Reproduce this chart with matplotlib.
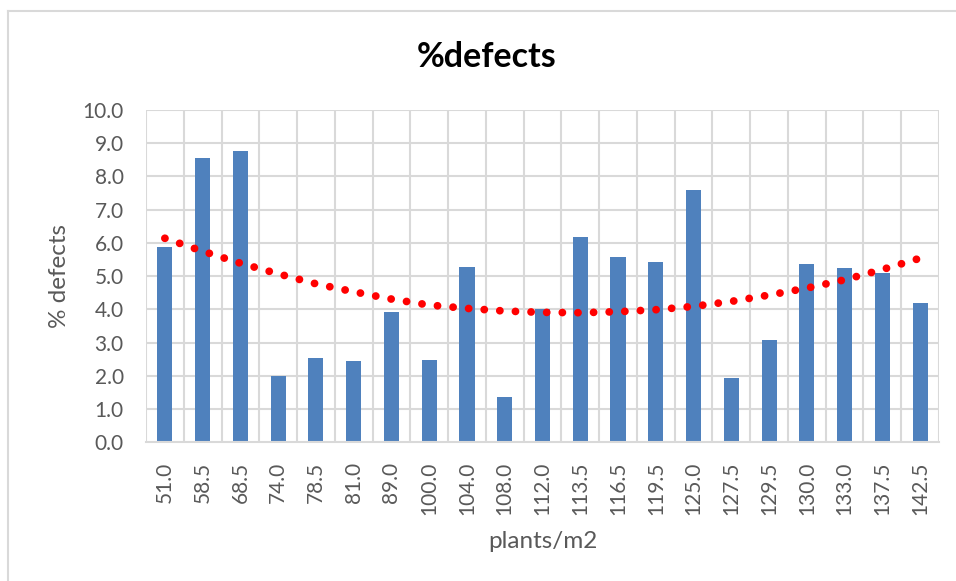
import matplotlib
matplotlib.use('Agg')
import matplotlib.pyplot as plt
from matplotlib.lines import Line2D

# raw data
density = ['51.0', '58.5', '68.5', '74.0', '78.5', '81.0', '89.0', '100.0', '104.0',
           '108.0', '112.0', '113.5', '116.5', '119.5', '125.0', '127.5', '129.5',
           '130.0', '133.0', '137.5', '142.5']
defects = [5.88, 8.55, 8.77, 2.00, 2.54, 2.44, 3.92, 2.48, 5.28, 1.36, 4.00,
           6.17, 5.57, 5.43, 7.59, 1.94, 3.08, 5.37, 5.25, 5.08, 4.20]
# polynomial trendline
trend = [6.14, 5.75, 5.39, 5.07, 4.77, 4.53, 4.31, 4.13, 4.03, 3.95, 3.91,
         3.90, 3.93, 3.99, 4.09, 4.24, 4.43, 4.64, 4.89, 5.20, 5.54]

plt.rcParams['font.family'] = ['Lato', 'DejaVu Sans']
grey = '#595959'

fig = plt.figure(figsize=(9.56, 5.81), dpi=100)
ax = fig.add_axes([146/956, 1-442.3/581, (939-146)/956, (442.3-110)/581])

x = list(range(len(density)))
ax.bar(x, defects, width=0.4, color='#4F81BD', zorder=2)
ax.plot(x, trend, color='#FF0000', lw=5.6, linestyle=(0, (0.01, 2.0)),
        dash_capstyle='round', zorder=3)

ax.set_xlim(-0.5, len(density) - 0.5)
ax.set_ylim(0, 10)
ax.set_yticks([i for i in range(11)])
ax.set_yticklabels([f'{i:.1f}' for i in range(11)])
ax.set_xticks(x)
ax.set_xticklabels(density, rotation=90)
ax.tick_params(axis='both', length=0, colors=grey, labelsize=15)
ax.tick_params(axis='y', pad=16)
ax.tick_params(axis='x', pad=14)

# gridlines: horizontal at ticks, vertical at category boundaries
for v in range(1, 11):
    ax.axhline(v, color='#D9D9D9', lw=1.5, zorder=1)
for b in range(len(density) + 1):
    ax.axvline(b - 0.5, color='#D9D9D9', lw=1.5, zorder=1)
for s in ['top', 'right', 'left']:
    ax.spines[s].set_visible(False)
ax.spines['bottom'].set_color('#D9D9D9')
ax.spines['bottom'].set_linewidth(1.5)

fig.text(487/956, 1-57/581, '%defects', ha='center', va='center',
         fontsize=24.5, fontweight='bold', color='black')
fig.text(542.5/956, 1-541/581, 'plants/m2', ha='center', va='center',
         fontsize=17.5, color=grey)
fig.text(60/956, 1-276/581, '% defects', ha='center', va='center',
         fontsize=17.5, color=grey, rotation=90)

# chart area border (only top and left visible in the crop)
fig.add_artist(Line2D([8/956, 1], [1-11/581, 1-11/581], color='#D9D9D9', lw=1.5))
fig.add_artist(Line2D([8/956, 8/956], [0, 1-11/581], color='#D9D9D9', lw=1.5))

fig.savefig('out.png', dpi=100)
